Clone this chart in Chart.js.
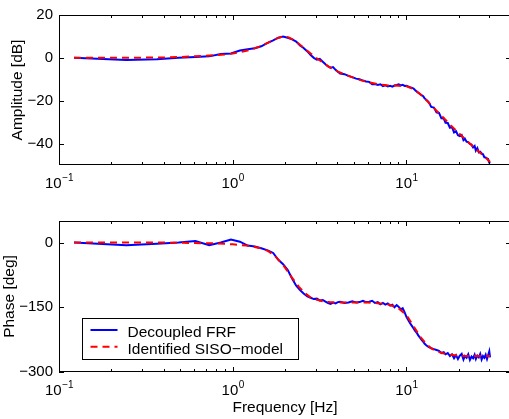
<!DOCTYPE html>
<html><head><meta charset="utf-8">
<script src="https://cdn.jsdelivr.net/npm/chart.js@4"></script>
<style>
html,body{margin:0;padding:0;background:#fff;overflow:hidden;width:509px;height:419px;position:relative;}
canvas{position:absolute;left:0;}
#c1{top:0;} #c2{top:200px;}
</style></head><body>
<canvas id="c1" width="511" height="200"></canvas>
<canvas id="c2" width="511" height="219"></canvas>
<script>
// ---- data ----
const freqMeas = [
  0.122, 0.244, 0.366, 0.488, 0.61, 0.732, 0.854, 0.977, 1.1, 1.22,
  1.34, 1.46, 1.59, 1.71, 1.83, 1.95, 2.07, 2.2, 2.32, 2.44,
  2.56, 2.69, 2.81, 2.93, 3.05, 3.17, 3.3, 3.42, 3.54, 3.66,
  3.78, 3.91, 4.03, 4.15, 4.4, 4.64, 4.88, 5.13, 5.37, 5.62,
  5.86, 6.1, 6.35, 6.59, 6.84, 7.08, 7.32, 7.57, 7.81, 8.06,
  8.3, 8.54, 8.79, 9.03, 9.28, 9.52, 9.77, 10.0, 10.3, 10.5,
  10.7, 11.0, 11.2, 11.5, 11.7, 12.0, 12.2, 12.5, 12.7, 13.0,
  13.4, 13.9, 14.4, 14.9, 15.4, 15.9, 16.4, 16.8, 17.3, 17.8,
  18.3, 18.8, 19.3, 19.8, 20.3, 20.8, 21.3, 21.7, 22.2, 22.7,
  23.2, 23.7, 24.2, 24.7, 25.1, 25.6, 26.1, 26.6, 27.1, 27.6,
  28.1, 28.6, 29.1, 29.5, 30.0, 30.3
];
const ampMeas = [
  0, -1.0, -0.6, 0, 0.4, 0.7, 1.8, 2.0, 3.4, 4.0,
  4.5, 5.4, 7.0, 8.2, 9.4, 10.0, 9.4, 8.6, 7.6, 5.8,
  4.6, 3.0, 1.3, 0, -0.8, -0.5, -1.8, -3.0, -4.0, -4.6,
  -4.3, -5.6, -6.5, -7.3, -7.6, -8.4, -9.0, -9.7, -10.0, -10.6,
  -11.0, -11.2, -12.3, -12.2, -12.6, -12.3, -13.2, -12.8, -13.3, -13.0,
  -13.4, -12.9, -12.7, -12.4, -12.9, -12.6, -13.1, -13.0, -13.4, -13.7,
  -13.9, -14.3, -15.0, -15.8, -16.3, -17.0, -17.4, -17.9, -18.8, -19.6,
  -20.5, -22.9, -23.2, -25.4, -25.7, -28.2, -28.3, -30.3, -30.4, -32.6,
  -32.3, -34.8, -34.2, -36.1, -36.5, -36.0, -38.4, -37.7, -39.1, -39.4,
  -40.2, -40.5, -41.8, -41.1, -43.3, -42.1, -44.1, -43.8, -44.6, -45.0,
  -46.4, -46.5, -46.9, -47.2, -48.9, -49.3
];
const phaseMeas = [
  0, -6, -3, 0, 3.5, -6, 0, 7, 2, -7,
  -9, -13, -18, -24, -40, -50, -63, -84, -100, -110,
  -118, -125, -128, -131, -130, -134, -133, -137, -140, -142,
  -139, -141, -138, -137, -140, -139, -136, -139, -138, -135,
  -138, -137, -135, -140, -138, -143, -140, -144, -141, -146,
  -144, -150, -145, -149, -155, -152, -162, -172, -181, -187,
  -192, -199, -204, -210, -215, -221, -225, -230, -234, -238,
  -242, -245, -247, -249, -251, -256, -254, -259, -256, -263,
  -259, -268, -261, -270, -262, -258, -271, -263, -267, -259,
  -272, -264, -268, -260, -270, -262, -266, -258, -271, -263,
  -267, -260, -270, -262, -252, -266
];
const freqModel = [
  0.122, 0.15, 0.2, 0.25, 0.3, 0.4, 0.5, 0.6, 0.7, 0.8,
  0.9, 1.0, 1.1, 1.2, 1.3, 1.4, 1.5, 1.6, 1.7, 1.8,
  1.9, 2.0, 2.1, 2.2, 2.4, 2.6, 2.8, 3.0, 3.3, 3.6,
  4.0, 4.5, 5.0, 5.5, 6, 7, 8, 9, 10, 11,
  12, 13, 14, 15, 16, 18, 20, 22, 24, 26,
  28, 30.3
];
const ampModel = [
  0, 0, 0, 0, 0.1, 0.2, 0.4, 0.7, 1.0, 1.3,
  1.6, 2.0, 2.6, 3.3, 4.1, 5.0, 6.0, 7.1, 8.2, 9.1,
  9.7, 9.9, 9.5, 8.7, 6.6, 4.3, 2.1, 0.2, -2.2, -4.3,
  -6.3, -8.0, -9.4, -10.5, -11.3, -12.4, -12.9, -13.0, -13.3, -14.6,
  -16.9, -19.7, -22.4, -24.9, -27.2, -31.5, -35.1, -38.3, -41.1, -43.6,
  -45.9, -48.6
];
const phaseModel = [
  0, 0, 0, 0, 0, 0, -0.5, -1, -1.5, -2,
  -3, -4, -5.5, -7, -9, -12, -15, -20, -27, -36,
  -47, -58, -70, -82, -102, -117, -127, -132, -136, -138,
  -139, -139, -139, -139, -139, -141, -144, -152, -168, -194,
  -218, -235, -246, -252, -256, -260, -262, -263, -263, -263,
  -263, -263
];
const xMajorExps = [-1, 0, 1];
const ampTicks = [-40, -20, 0, 20];
const phaseTicks = [-300, -150, 0];
const seriesNames = ['Decoupled FRF', 'Identified SISO\u2212model'];

// ---- helpers ----
const FONT = '"Liberation Sans", Arial, Helvetica, sans-serif';
const toXY = (xs, ys) => xs.map((v, i) => ({x: v, y: ys[i]}));
const fmt = v => v < 0 ? '\u2212' + Math.abs(v) : String(v);

const matlabAxes = {
  id: 'matlabAxes',
  afterDraw(chart, args, opts) {
    const {ctx, chartArea: a, scales: {x, y}} = chart;
    ctx.save();
    ctx.strokeStyle = '#000';
    ctx.lineWidth = 1;
    ctx.beginPath();
    for (const e of xMajorExps) {
      const d = Math.pow(10, e);
      for (let m = 1; m <= 9; m++) {
        const v = m * d;
        if (v < x.min * 0.999 || v > x.max * 1.001) continue;
        const px = Math.round(x.getPixelForValue(v)) + 0.5;
        const len = m === 1 ? 5 : 3;
        ctx.moveTo(px, a.bottom); ctx.lineTo(px, a.bottom - len);
        ctx.moveTo(px, a.top); ctx.lineTo(px, a.top + len);
      }
    }
    for (const t of opts.yTicks) {
      const py = Math.round(y.getPixelForValue(t)) + 0.5;
      ctx.moveTo(a.left, py); ctx.lineTo(a.left + 5, py);
      ctx.moveTo(a.right, py); ctx.lineTo(a.right - 5, py);
    }
    ctx.stroke();
    ctx.strokeRect(a.left + 0.5, a.top + 0.5, a.right - a.left - 1, a.bottom - a.top - 1);
    // x tick labels 10^n
    ctx.fillStyle = '#000';
    ctx.textBaseline = 'alphabetic';
    ctx.textAlign = 'left';
    for (const e of xMajorExps) {
      const px = x.getPixelForValue(Math.pow(10, e));
      const base = '10', exp = fmt(e);
      ctx.font = '15px ' + FONT;
      const wb = ctx.measureText(base).width;
      ctx.font = '10px ' + FONT;
      const we = ctx.measureText(exp).width;
      const x0 = px - (wb + we) / 2;
      const by = a.bottom + 22.5;
      ctx.font = '15px ' + FONT;
      ctx.fillText(base, x0, by);
      ctx.font = '10px ' + FONT;
      ctx.fillText(exp, x0 + wb + 0.5, by - 6.5);
    }
    // legend
    if (opts.legend) {
      const L = opts.legend;
      ctx.fillStyle = '#fff';
      ctx.fillRect(L.x, L.y, L.w, L.h);
      ctx.strokeStyle = '#000';
      ctx.lineWidth = 1;
      ctx.strokeRect(L.x + 0.5, L.y + 0.5, L.w - 1, L.h - 1);
      const dss = chart.data.datasets;
      L.rows.forEach((r, i) => {
        const ds = dss.find(d => d.label === seriesNames[i]);
        ctx.strokeStyle = ds.borderColor;
        ctx.lineWidth = ds.borderWidth;
        ctx.setLineDash(ds.borderDash || []);
        ctx.beginPath();
        ctx.moveTo(L.lx0, r.ly); ctx.lineTo(L.lx1, r.ly);
        ctx.stroke();
        ctx.setLineDash([]);
        ctx.fillStyle = '#000';
        ctx.font = '15.5px ' + FONT;
        ctx.textBaseline = 'alphabetic';
        ctx.fillText(seriesNames[i], L.tx, r.ty);
      });
    }
    ctx.restore();
  }
};

function makeChart(id, yVals, yModel, yMin, yMax, yTicks, yTitle, yTitlePad, padTop, xAxisH, xTitle, legend) {
  return new Chart(document.getElementById(id), {
    type: 'line',
    data: {
      datasets: [
        {label: seriesNames[0], data: toXY(freqMeas, yVals), borderColor: '#0000ff', borderWidth: 2,
         pointRadius: 0, tension: 0, fill: false, order: 1},
        {label: seriesNames[1], data: toXY(freqModel, yModel), borderColor: '#ff0000', borderWidth: 2,
         borderDash: [7, 5], pointRadius: 0, tension: 0, fill: false, order: 0}
      ]
    },
    options: {
      responsive: false,
      animation: false,
      events: [],
      layout: {padding: {top: padTop, left: 0, right: 0, bottom: 0}},
      plugins: {
        legend: {display: false},
        tooltip: {enabled: false},
        matlabAxes: {yTicks: yTicks, legend: legend}
      },
      scales: {
        x: {
          type: 'logarithmic', min: 0.1, max: 40,
          grid: {display: false, drawTicks: false}, border: {display: false},
          ticks: {display: false},
          title: {display: !!xTitle, text: xTitle || '', color: '#000',
                  font: {family: FONT, size: 15.5}, padding: {top: 0, bottom: 2.4}},
          afterFit: s => { s.height = xAxisH; }
        },
        y: {
          type: 'linear', min: yMin, max: yMax,
          grid: {display: false, drawTicks: false}, border: {display: false},
          afterBuildTicks: s => { s.ticks = yTicks.map(v => ({value: v})); },
          ticks: {color: '#000', font: {family: FONT, size: 15}, padding: 6, autoSkip: false,
                  callback: v => fmt(v)},
          title: {display: true, text: yTitle, color: '#000',
                  font: {family: FONT, size: 15.5}, padding: {top: yTitlePad, bottom: 0}},
          afterFit: s => { s.width = 59; }
        }
      }
    },
    plugins: [matlabAxes]
  });
}

makeChart('c1', ampMeas, ampModel, -50, 20, ampTicks, 'Amplitude [dB]', 8.8, 14, 35, null, null);
makeChart('c2', phaseMeas, phaseModel, -300, 50, phaseTicks, 'Phase [deg]', 0.6, 21, 47, 'Frequency [Hz]',
  {x: 82, y: 118, w: 217, h: 42, lx0: 90.5, lx1: 117.5, tx: 127.5,
   rows: [{ly: 130, ty: 136.7}, {ly: 146.7, ty: 154}]});
</script>
</body></html>
